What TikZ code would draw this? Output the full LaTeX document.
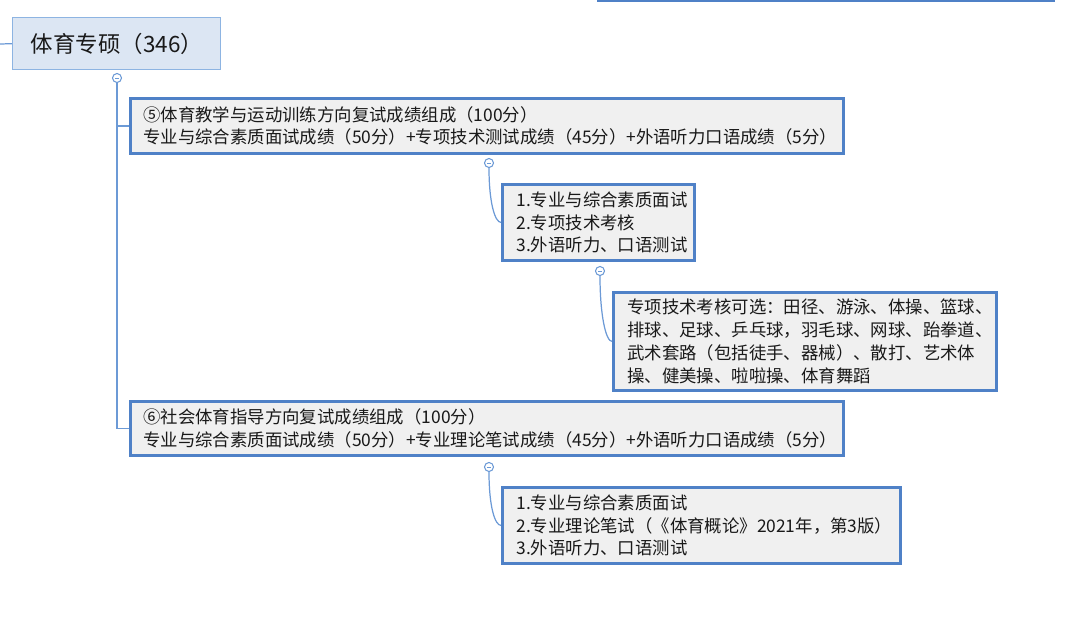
\documentclass[tikz,border=0pt]{standalone}
\usepackage{fontspec}
\usepackage{tikz}
\newfontfamily\cjk{Noto Sans CJK SC}
\definecolor{boxblue}{RGB}{79,129,199}
\definecolor{linkblue}{RGB}{108,154,214}
\definecolor{rootfill}{RGB}{220,230,243}
\definecolor{rootline}{RGB}{141,180,226}
\definecolor{boxfill}{RGB}{240,240,240}

\begin{document}
\begin{tikzpicture}[x=0.02cm, y=-0.02cm,
    every node/.style={font=\cjk\fontsize{9.9}{13}\selectfont, text=black!90},
    rootbox/.style={rectangle, draw=rootline, fill=rootfill, line width=0.8pt,
        anchor=north west, inner xsep=0.36cm, align=left,
        font=\cjk\fontsize{12.8}{15}\selectfont},
    topic/.style={rectangle, draw=boxblue, fill=boxfill, line width=1.6pt,
        anchor=north west, inner xsep=0.26cm, align=left},
    fold/.style={circle, draw=linkblue, fill=white, line width=0.6pt,
        minimum size=0.18cm, inner sep=0pt,
        path picture={\draw[linkblue, line width=0.5pt]
            ([xshift=-0.04cm]path picture bounding box.center) --
            ([xshift=0.04cm]path picture bounding box.center);}},
    link/.style={draw=linkblue, line width=0.7pt}
]
\useasboundingbox (0,0) rectangle (1080,631);
%% ============================================================
%% ROOT: title box and its fold marker
%% ============================================================
\coordinate (edge) at (0,44);
\node[rootbox, text width=3.44cm, minimum height=1.04cm] (root) at (12,17)
    {体育专硕（346）};
\draw[link] (edge) -- (root.west);
\node[fold] (c0) at (117,78) {};
%% cut-off box at the top right
\coordinate (cutL) at (597,1);
\coordinate (cutR) at (1055,1);
\draw[boxblue, line width=1.6pt] (cutL) -- (cutR);
%% ============================================================
%% FIRST BRANCH: (5) and its children
%% ============================================================
\node[topic, text width=13.74cm, minimum height=1.1cm] (fifth) at (129,97)
    {⑤体育教学与运动训练方向复试成绩组成（100分）\\
     专业与综合素质面试成绩（50分）+专项技术测试成绩（45分）+外语听力口语成绩（5分）};
\node[fold] (c5) at (489,163) {};
\node[topic, text width=3.28cm, minimum height=1.52cm, inner xsep=0.28cm] (fifthsub) at (501,183)
    {1.专业与综合素质面试\\
     2.专项技术考核\\
     3.外语听力、口语测试};
\node[fold] (c5s) at (600,271) {};
\node[topic, text width=7.1cm, minimum height=1.96cm, inner xsep=0.28cm] (sports) at (612,291)
    {专项技术考核可选：田径、游泳、体操、篮球、\\
     排球、足球、乒乓球，羽毛球、网球、跆拳道、\\
     武术套路（包括徒手、器械）、散打、艺术体\\
     操、健美操、啦啦操、体育舞蹈};
\draw[link] (c0) |- (fifth.west);
\draw[link] (c5) .. controls +(0,40) and +(-6,0) .. (fifthsub.west);
\draw[link] (c5s) .. controls +(0,45) and +(-6,0) .. (sports.west);
%% ============================================================
%% SECOND BRANCH: (6) and its child
%% ============================================================
\node[topic, text width=13.74cm, minimum height=1.08cm] (sixth) at (129,400)
    {⑥社会体育指导方向复试成绩组成（100分）\\
     专业与综合素质面试成绩（50分）+专业理论笔试成绩（45分）+外语听力口语成绩（5分）};
\node[fold] (c6) at (489,467) {};
\node[topic, text width=7.4cm, minimum height=1.52cm, inner xsep=0.28cm] (sixthsub) at (501,486)
    {1.专业与综合素质面试\\
     2.专业理论笔试（《体育概论》2021年，第3版）\\
     3.外语听力、口语测试};
\draw[link] (c0) |- (sixth.west);
\draw[link] (c6) .. controls +(0,40) and +(-6,0) .. (sixthsub.west);
\end{tikzpicture}
\end{document}
